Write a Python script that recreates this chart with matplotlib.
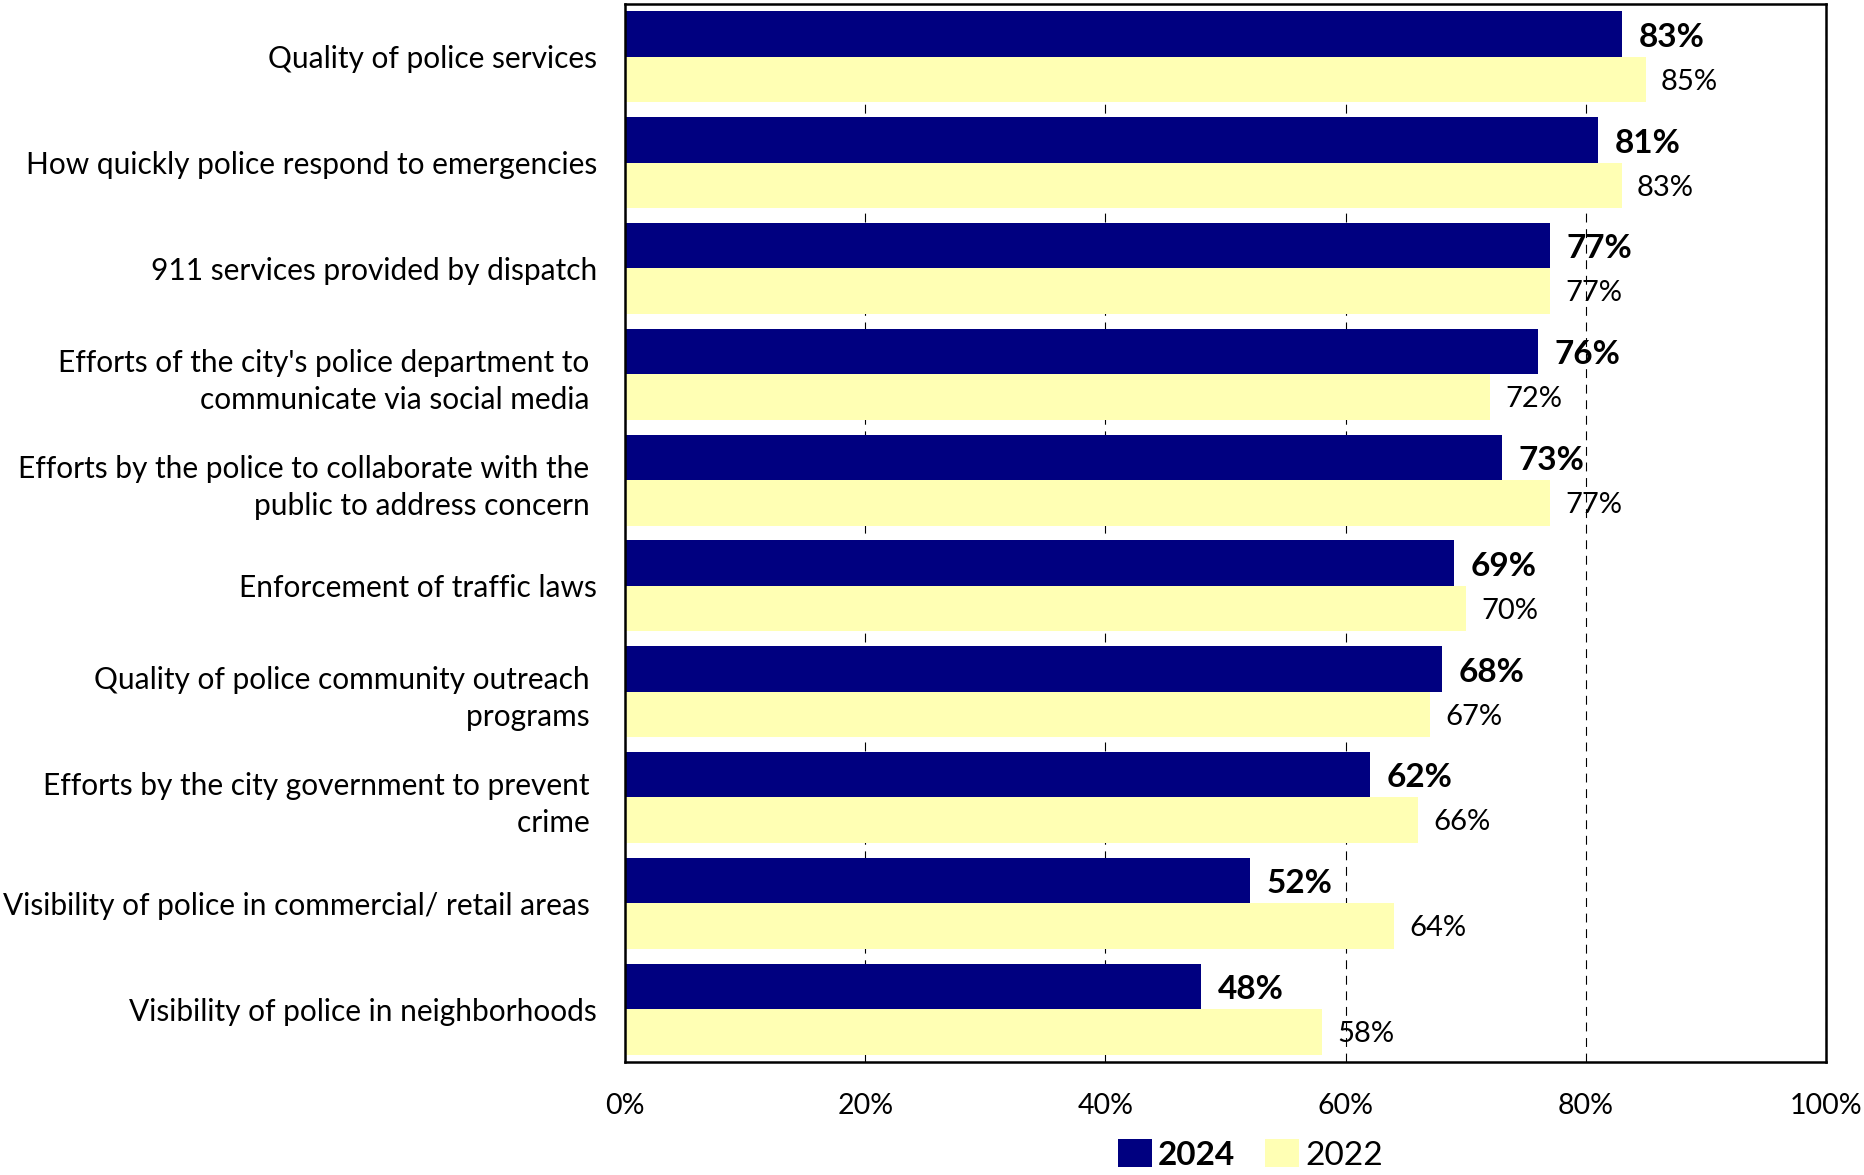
import matplotlib.pyplot as plt
import numpy as np

categories = [
    "Quality of police services",
    "How quickly police respond to emergencies",
    "911 services provided by dispatch",
    "Efforts of the city's police department to \ncommunicate via social media ",
    "Efforts by the police to collaborate with the \npublic to address concern ",
    "Enforcement of traffic laws",
    "Quality of police community outreach \nprograms ",
    "Efforts by the city government to prevent \ncrime ",
    "Visibility of police in commercial/ retail areas ",
    "Visibility of police in neighborhoods",
]
values_2024 = [83, 81, 77, 76, 73, 69, 68, 62, 52, 48]
values_2022 = [85, 83, 77, 72, 77, 70, 67, 66, 64, 58]
xticks = [0, 20, 40, 60, 80, 100]

plt.rcParams["font.family"] = ["Lato", "DejaVu Sans"]

fig = plt.figure(figsize=(18.64, 11.75), dpi=100)
ax = fig.add_axes([0.3353, 0.0962, 0.6443, 0.9004])

y = np.arange(len(categories))
h = 0.43
ax.barh(y - h / 2, values_2024, height=h, color="#000080", label="2024", zorder=2)
ax.barh(y + h / 2, values_2022, height=h, color="#FFFFB4", label="2022", zorder=2)

for yi, v in zip(y, values_2024):
    ax.annotate(f"{v}%", (v, yi - h / 2 + 0.03), xytext=(12, 0),
                textcoords="offset points", va="center", ha="left",
                fontsize=24, fontweight="bold")
for yi, v in zip(y, values_2022):
    ax.annotate(f"{v}%", (v, yi + h / 2 + 0.02), xytext=(11, 0),
                textcoords="offset points", va="center", ha="left", fontsize=21)

ax.set_xlim(0, 100)
ax.set_ylim(len(categories) - 0.5, -0.5)
ax.set_xticks(xticks)
ax.set_xticklabels([f"{t}%" for t in xticks], fontsize=20.5)
ax.set_yticks(y)
ax.set_yticklabels(categories, fontsize=21.5, ha="right", multialignment="right",
                   linespacing=1.4)
ax.tick_params(axis="both", length=0)
ax.tick_params(axis="x", pad=22)
ax.tick_params(axis="y", pad=20)
ax.xaxis.grid(True, linestyle=(0, (8, 6)), color="black", linewidth=0.8, zorder=0)
ax.set_axisbelow(True)
for s in ax.spines.values():
    s.set_linewidth(1.8)

leg = fig.legend(loc="center", bbox_to_anchor=(0.671, 0.017), ncol=2, frameon=False,
                 fontsize=24, handlelength=1.0, handleheight=0.9, columnspacing=0.9,
                 handletextpad=0.2)
leg.get_texts()[0].set_fontweight("bold")

fig.savefig("out.png", dpi=100)
